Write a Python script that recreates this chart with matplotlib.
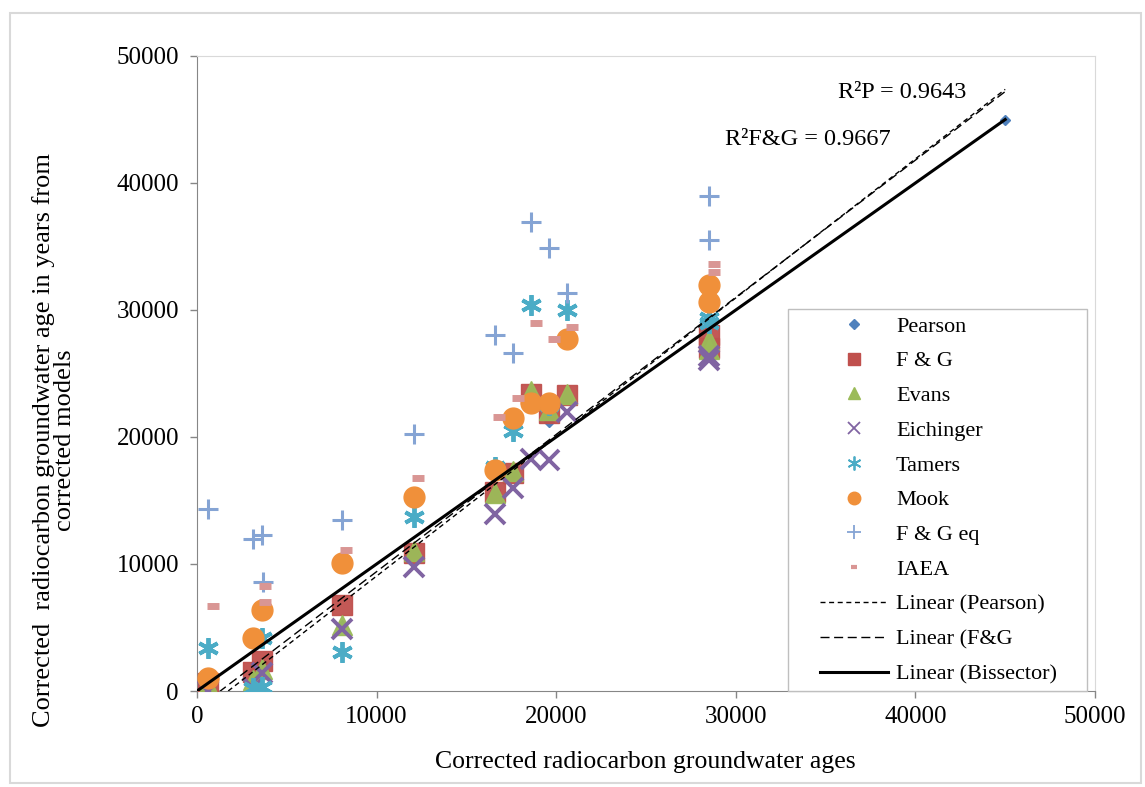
import matplotlib
matplotlib.use("Agg")
import matplotlib.pyplot as plt
from matplotlib.lines import Line2D
from matplotlib.patches import Rectangle

plt.rcParams['font.family'] = ['Liberation Serif', 'DejaVu Serif']

# ---- data ----
pearson_x = [600, 3100, 3600, 8100, 12100, 16600, 17600, 18600, 19600, 20600, 28500, 28500, 45000]
pearson_y = [700, 1500, 2200, 5200, 11000, 15800, 17200, 23300, 21200, 23000, 27600, 27000, 45000]

fg_x = [600, 3100, 3600, 8100, 12100, 16600, 17600, 18600, 19600, 20600, 28500, 28500]
fg_y = [600, 1500, 2400, 6800, 10900, 15700, 17200, 23400, 21900, 23300, 28000, 27000]

evans_x = [600, 3100, 3600, 8100, 12100, 16600, 17600, 18600, 19600, 20600, 28500, 28500]
evans_y = [500, 900, 1700, 5200, 11000, 15600, 17300, 23600, 22100, 23400, 27600, 26900]

eich_x = [600, 3100, 3600, 8100, 12100, 16600, 17600, 18600, 19600, 20600, 28500, 28500]
eich_y = [0, 200, 1400, 4900, 9800, 13900, 16000, 18300, 18200, 22000, 26100, 26400]

tamers_x = [600, 3100, 3600, 3600, 8100, 12100, 16600, 17600, 18600, 19600, 20600, 28500, 28500]
tamers_y = [3400, 200, 300, 4200, 3100, 13700, 17600, 20500, 30400, 22500, 30000, 29400, 29000]

mook_x = [600, 3100, 3600, 8100, 12100, 16600, 17600, 18600, 19600, 20600, 28500, 28500]
mook_y = [1000, 4200, 6400, 10100, 15300, 17400, 21500, 22700, 22700, 27700, 32000, 30600]

fgeq_x = [600, 3100, 3600, 3700, 8100, 12100, 16600, 17600, 18600, 19600, 20600, 28500, 28500]
fgeq_y = [14300, 12000, 12300, 8600, 13500, 20200, 28000, 26600, 36900, 34900, 31300, 39000, 35500]

iaea_x = [900, 3800, 3800, 8300, 12300, 16800, 17900, 18900, 19900, 20900, 28800, 28800]
iaea_y = [6700, 8300, 7000, 11100, 16800, 21600, 23100, 29000, 27700, 28700, 33600, 33000]

# trend lines (slope, intercept) and range
pearson_fit = (1.095, -1900)
fg_fit = (1.08, -1400)
bis_range = [0, 45000]
fit_range = [600, 45000]

r2_labels = ["R\u00b2P = 0.9643", "R\u00b2F&G = 0.9667"]

ticks = [0, 10000, 20000, 30000, 40000, 50000]

# ---- figure ----
W, H = 1145, 787
fig = plt.figure(figsize=(W / 100, H / 100), dpi=100)
ax = fig.add_axes([197 / W, 1 - 691 / H, (1095 - 197) / W, (691 - 56) / H])

# outer chart border
fig.patches.append(Rectangle((10 / W, 4 / H), (1141 - 10) / W, (774 - 4) / H,
                             transform=fig.transFigure, fill=False,
                             edgecolor='#d9d9d9', linewidth=1.5))

c_pear = '#4F81BD'
c_fg = '#C0504D'
c_ev = '#9BBB59'
c_ei = '#8064A2'
c_ta = '#4BACC6'
c_mo = '#F0903A'
c_eq = '#85A4D4'
c_ia = '#D99694'

ax.plot(pearson_x, pearson_y, 'D', color=c_pear, ms=5, ls='none', zorder=3)
ax.plot(fg_x, fg_y, 's', color=c_fg, ms=14, ls='none', alpha=0.95, zorder=3)
ax.plot(evans_x, evans_y, '^', color=c_ev, ms=14, ls='none', alpha=0.95, zorder=3)
ax.plot(eich_x, eich_y, 'x', color=c_ei, ms=14, mew=2.8, ls='none', zorder=3)
ax.plot(tamers_x, tamers_y, marker=(6, 2, 0), color=c_ta, ms=15, mew=2.8, ls='none', zorder=3)
ax.plot(mook_x, mook_y, 'o', color=c_mo, ms=15, ls='none', zorder=3)
ax.plot(fgeq_x, fgeq_y, '+', color=c_eq, ms=15, mew=2.2, ls='none', zorder=3)
ax.plot(iaea_x, iaea_y, '_', color=c_ia, ms=9, mew=5, ls='none', zorder=3)

dash_p = (0, (3.6, 2.6))
dash_f = (0, (6.5, 3.3))
xs = fit_range
ax.plot(xs, [pearson_fit[0] * v + pearson_fit[1] for v in xs], color='black',
        lw=1.0, ls=dash_p, zorder=4)
ax.plot(xs, [fg_fit[0] * v + fg_fit[1] for v in xs], color='black',
        lw=1.0, ls=dash_f, zorder=4)
ax.plot(bis_range, bis_range, color='black', lw=2.2, zorder=4)

ax.text(39250, 47100, r2_labels[0], fontsize=17.5, ha='center', va='center')
ax.text(34000, 43400, r2_labels[1], fontsize=17.5, ha='center', va='center')

ax.set_xlim(0, 50000)
ax.set_ylim(0, 50000)
ax.set_xticks(ticks)
ax.set_yticks(ticks)
ax.set_xticklabels([str(t) for t in ticks])
ax.set_yticklabels([str(t) for t in ticks])
ax.tick_params(axis='both', direction='out', length=5, width=1, color='#868686',
               labelsize=18)
ax.tick_params(axis='x', pad=6)
ax.tick_params(axis='y', pad=8)
for s in ['left', 'bottom']:
    ax.spines[s].set_color('#868686')
for s in ['top', 'right']:
    ax.spines[s].set_color('#d9d9d9')

fig.text(645 / W, 1 - 762 / H, "Corrected radiocarbon groundwater ages",
         fontsize=18.5, ha='center', va='center')
fig.text(54 / W, 1 - 440 / H,
         "Corrected  radiocarbon groundwater age in years from\ncorrected models",
         fontsize=19, ha='center', va='center', rotation=90, multialignment='center',
         linespacing=0.95)

# legend frame drawn separately
fig.patches.append(Rectangle((788 / W, 1 - 691 / H), (1087 - 788) / W, (691 - 309) / H,
                             transform=fig.transFigure, facecolor='white',
                             edgecolor='#bfbfbf', linewidth=1.0, zorder=5))

handles = [
    Line2D([], [], marker='D', color=c_pear, ms=5, ls='none'),
    Line2D([], [], marker='s', color=c_fg, ms=9, ls='none'),
    Line2D([], [], marker='^', color=c_ev, ms=9, ls='none'),
    Line2D([], [], marker='x', color=c_ei, ms=9, mew=1.3, ls='none'),
    Line2D([], [], marker=(6, 2, 0), color=c_ta, ms=10, mew=1.3, ls='none'),
    Line2D([], [], marker='o', color=c_mo, ms=9, ls='none'),
    Line2D([], [], marker='+', color=c_eq, ms=10, mew=1.3, ls='none'),
    Line2D([], [], marker='_', color=c_ia, ms=5, mew=3, ls='none'),
    Line2D([], [], color='black', lw=1.0, ls=dash_p),
    Line2D([], [], color='black', lw=1.0, ls=dash_f),
    Line2D([], [], color='black', lw=2.2),
]
labels = ["Pearson", "F & G", "Evans", "Eichinger", "Tamers", "Mook", "F & G eq",
          "IAEA", "Linear (Pearson)", "Linear (F&G", "Linear (Bissector)"]
fs_leg = 16
px_per_font = fs_leg * 100 / 72
leg = fig.legend(handles, labels, loc='upper left',
                 bbox_to_anchor=(820 / W, 1 - 316 / H),
                 fontsize=fs_leg, frameon=False, borderpad=0,
                 labelspacing=0.64, handlelength=68 / px_per_font,
                 handletextpad=8 / px_per_font, borderaxespad=0)
leg.set_zorder(6)

fig.savefig("out.png", dpi=100)
